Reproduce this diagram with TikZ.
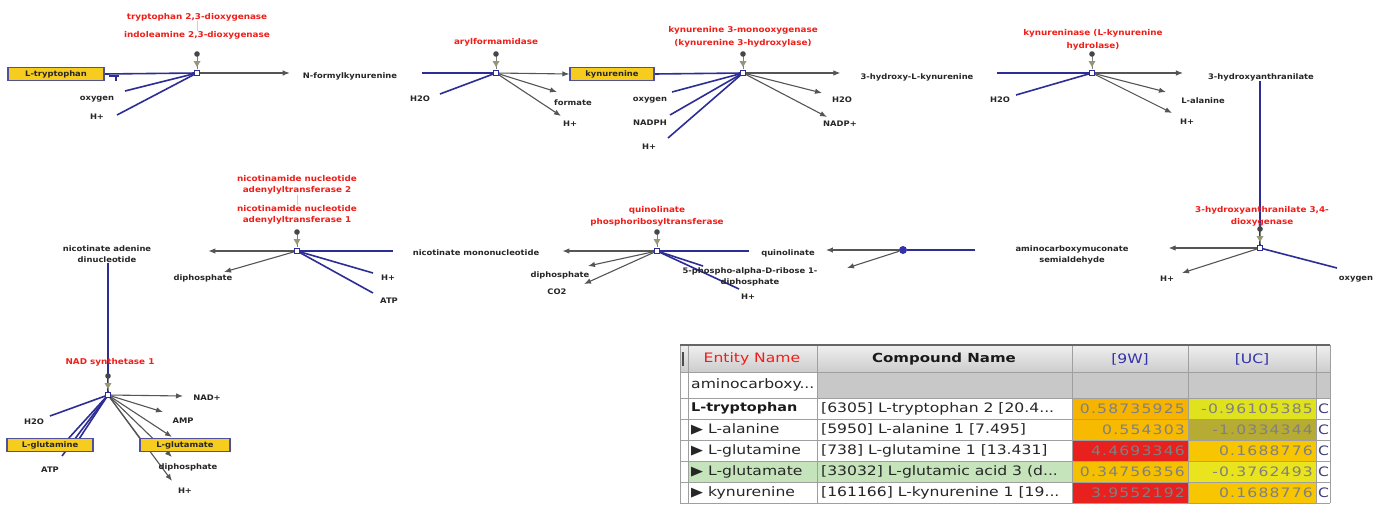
\documentclass[tikz,border=0pt]{standalone}
\usepackage{fontspec}
\setmainfont{DejaVu Sans}
\newfontfamily\dfont[FakeStretch=1.1]{DejaVu Sans}
\newfontfamily\tfont[FakeStretch=1.2]{DejaVu Sans}
\newfontfamily\vfont[FakeStretch=1.2,LetterSpace=9]{DejaVu Sans}
\usetikzlibrary{arrows.meta}
\pgfdeclarelayer{bg}
\pgfsetlayers{bg,main}
\definecolor{sblue}{RGB}{45,45,150}
\definecolor{pgray}{RGB}{85,85,85}
\definecolor{ered}{RGB}{240,30,25}
\definecolor{cyel}{RGB}{246,204,30}
\definecolor{cbord}{RGB}{80,80,160}
\definecolor{dotc}{RGB}{70,70,70}
\definecolor{tric}{RGB}{150,150,120}
\definecolor{celg}{RGB}{200,200,200}
\definecolor{rowg}{RGB}{198,228,188}
\definecolor{cor1}{RGB}{246,180,0}
\definecolor{cor2}{RGB}{247,186,0}
\definecolor{cor3}{RGB}{244,192,0}
\definecolor{cred}{RGB}{232,32,30}
\definecolor{cyl1}{RGB}{224,226,30}
\definecolor{col1}{RGB}{182,172,52}
\definecolor{cyl2}{RGB}{248,198,0}
\definecolor{cyl3}{RGB}{234,228,30}
\definecolor{hblue}{RGB}{50,50,170}
\definecolor{cblue}{RGB}{60,60,120}
\definecolor{tblue}{RGB}{50,50,170}
\begin{document}
\begin{tikzpicture}[x=1pt,y=-1pt,
 lbl/.style={font=\dfont\bfseries\fontsize{7.6}{11}\selectfont, inner sep=0pt, text=black!85},
 enz/.style={lbl, font=\dfont\bfseries\fontsize{8}{11}\selectfont, text=ered},
 cbox/.style={lbl, draw=cbord, line width=1.3pt, fill=cyel, minimum height=13pt},
 sub/.style={draw=sblue, line width=1.6pt},
 prod/.style={draw=pgray, line width=1.1pt, -{Latex[length=7pt,width=5.5pt]}},
 pline/.style={draw=pgray, line width=1.1pt},
 yline/.style={draw=yellow!80!orange, line width=1pt},
 hub/.style={draw=sblue, fill=white, line width=0.8pt, minimum size=4.5pt, inner sep=0pt},
 spont/.style={circle, fill=hblue, minimum size=8pt, inner sep=0pt},
 mod/.pic={\draw[gray, line width=0.6pt] (0,-19) -- (0,-4);
   \fill[tric] (-3.5,-12) -- (3.5,-12) -- (0,-6) -- cycle;
   \fill[dotc] (0,-19) circle (2.8);},
 tx/.style={font=\tfont\fontsize{13}{15}\selectfont, inner sep=0pt, text=black!85},
 txb/.style={font=\tfont\bfseries\fontsize{12.5}{15}\selectfont, inner sep=0pt, text=black!90},
 tv/.style={font=\vfont\fontsize{13}{15}\selectfont, inner sep=0pt, text=black!50, anchor=east},
]
\useasboundingbox (0,0) rectangle (1384,506);
\begin{pgfonlayer}{bg}
\fill[white] (0,0) rectangle (1384,506);
\end{pgfonlayer}

% hubs
\coordinate (h1) at (197,73);
\coordinate (h2) at (496,73);
\coordinate (h3) at (743,73);
\coordinate (h4) at (1092,73);
\coordinate (h5) at (1260,248);
\coordinate (h6) at (657,251);
\coordinate (h7) at (297,251);
\coordinate (h8) at (108,395);

% free ends
\coordinate (o1s) at (125,91);
\coordinate (hp1s) at (117,115);
\coordinate (w2s) at (440,94);
\coordinate (f2e) at (557,92);
\coordinate (hp2e) at (561,116);
\coordinate (o3s) at (672,92);
\coordinate (n3s) at (670,115);
\coordinate (hp3s) at (668,138);
\coordinate (w3e) at (822,93);
\coordinate (np3e) at (827,117);
\coordinate (w4s) at (1016,95);
\coordinate (ale) at (1166,92);
\coordinate (hp4e) at (1172,113);
\coordinate (hp5e) at (1182,273);
\coordinate (o5s) at (1337,268);
\coordinate (sp2e) at (847,268);
\coordinate (dp6e) at (588,266);
\coordinate (co2e) at (584,284);
\coordinate (prpps) at (703,266);
\coordinate (hp6s) at (739,289);
\coordinate (dp7e) at (224,272);
\coordinate (hp7s) at (373,273);
\coordinate (atp7s) at (373,293);
\coordinate (nadpe) at (183,396);
\coordinate (ampe) at (163,412);
\coordinate (glue) at (172,437);
\coordinate (dp8e) at (172,457);
\coordinate (hp8e) at (172,481);
\coordinate (w8s) at (50,416);
\coordinate (gln1) at (68,439);
\coordinate (gln2) at (79,439);
\coordinate (atp8s) at (62,456);

% ---------- labels
\node[cbox, minimum width=96pt] (trp) at (56,74) {L-tryptophan};
\node[enz] (e1a) at (197,17) {tryptophan 2,3-dioxygenase};
\node[enz] (e1b) at (197,35) {indoleamine 2,3-dioxygenase};
\node[lbl] (o1) at (97,99) {oxygen};
\node[lbl] (hp1) at (97,117) {H+};
\node[lbl] (nfk) at (350,76) {N-formylkynurenine};

\node[enz] (e2) at (496,42) {arylformamidase};
\node[lbl] (w2) at (420,99) {H2O};
\node[cbox, minimum width=84pt] (kyn) at (612,74) {kynurenine};
\node[lbl] (f2) at (573,103) {formate};
\node[lbl] (hp2) at (570,124) {H+};

\node[enz] (e3a) at (743,30) {kynurenine 3-monooxygenase};
\node[enz] (e3b) at (743,43) {(kynurenine 3-hydroxylase)};
\node[lbl] (o3) at (650,100) {oxygen};
\node[lbl] (n3) at (650,123) {NADPH};
\node[lbl] (hp3) at (649,147) {H+};
\node[lbl] (hk) at (917,77) {3-hydroxy-L-kynurenine};
\node[lbl] (w3) at (842,100) {H2O};
\node[lbl] (np3) at (840,124) {NADP+};

\node[enz] (e4a) at (1093,33) {kynureninase (L-kynurenine};
\node[enz] (e4b) at (1093,46) {hydrolase)};
\node[lbl] (w4) at (1000,100) {H2O};
\node[lbl] (haa) at (1261,77) {3-hydroxyanthranilate};
\node[lbl] (al) at (1203,101) {L-alanine};
\node[lbl] (hp4) at (1187,122) {H+};

\node[enz] (e5a) at (1262,210) {3-hydroxyanthranilate 3,4-};
\node[enz] (e5b) at (1262,222) {dioxygenase};
\node[lbl, align=center] (acms) at (1072,255) {aminocarboxymuconate\\semialdehyde};
\node[lbl] (hp5) at (1167,279) {H+};
\node[lbl] (o5) at (1356,279) {oxygen};

\node[spont] (sp) at (903,250) {};
\node[lbl] (qa) at (788,253) {quinolinate};

\node[enz] (e6a) at (657,210) {quinolinate};
\node[enz] (e6b) at (657,222) {phosphoribosyltransferase};
\node[lbl] (nmn) at (476,253) {nicotinate mononucleotide};
\node[lbl] (dp6) at (560,275) {diphosphate};
\node[lbl] (co2) at (557,292) {CO2};
\node[lbl, align=center] (prpp) at (750,277) {5-phospho-alpha-D-ribose 1-\\diphosphate};
\node[lbl] (hp6) at (748,297) {H+};

\node[enz, align=center] (e7a) at (297,185) {nicotinamide nucleotide\\adenylyltransferase 2};
\node[enz, align=center] (e7b) at (297,215) {nicotinamide nucleotide\\adenylyltransferase 1};
\node[lbl, align=center] (nad) at (107,254) {nicotinate adenine\\dinucleotide};
\node[lbl] (dp7) at (203,278) {diphosphate};
\node[lbl] (hp7) at (388,278) {H+};
\node[lbl] (atp7) at (389,301) {ATP};

\node[enz] (e8) at (110,362) {NAD synthetase 1};
\node[lbl] (nadp) at (207,398) {NAD+};
\node[lbl] (amp) at (183,421) {AMP};
\node[cbox, minimum width=90pt] (glu) at (185,445) {L-glutamate};
\node[cbox, minimum width=86pt] (gln) at (50,445) {L-glutamine};
\node[lbl] (w8) at (34,422) {H2O};
\node[lbl] (atp8) at (50,470) {ATP};
\node[lbl] (dp8) at (188,467) {diphosphate};
\node[lbl] (hp8) at (185,491) {H+};

% ---------- connectors
\begin{pgfonlayer}{bg}
\draw[sub] (trp.east) -- (h1);
\draw[sub] (o1s) -- (h1);
\draw[sub] (hp1s) -- (h1);
\draw[prod, shorten >=13pt] (h1) -- (nfk.west |- h1);
\draw[yline] (e1a.south) -- (e1b.north);

\draw[sub, shorten <=25pt] (nfk.east |- h2) -- (h2);
\draw[sub] (w2s) -- (h2);
\draw[prod] (h2) -- (kyn.west);
\draw[prod] (h2) -- (f2e);
\draw[prod] (h2) -- (hp2e);

\draw[sub] (kyn.east) -- (h3);
\draw[sub] (o3s) -- (h3);
\draw[sub] (n3s) -- (h3);
\draw[sub] (hp3s) -- (h3);
\draw[prod, shorten >=20pt] (h3) -- (hk.west |- h3);
\draw[prod] (h3) -- (w3e);
\draw[prod] (h3) -- (np3e);

\draw[sub, shorten <=23pt] (hk.east |- h4) -- (h4);
\draw[sub] (w4s) -- (h4);
\draw[prod, shorten >=25pt] (h4) -- (haa.west |- h4);
\draw[prod] (h4) -- (ale);
\draw[prod] (h4) -- (hp4e);

\draw[sub] (haa.south -| h5) -- (h5);
\draw[prod, shorten >=40pt] (h5) -- (acms.east |- h5);
\draw[prod] (h5) -- (hp5e);
\draw[sub] (o5s) -- (h5);

\draw[sub, shorten <=40pt] (acms.west |- sp) -- (sp);
\draw[prod, shorten >=11pt] (sp) -- (qa.east |- sp);
\draw[prod] (sp) -- (sp2e);

\draw[sub, shorten <=12pt] (qa.west |- h6) -- (h6);
\draw[prod, shorten >=23pt] (h6) -- (nmn.east |- h6);
\draw[prod] (h6) -- (dp6e);
\draw[prod] (h6) -- (co2e);
\draw[sub] (prpps) -- (h6);
\draw[sub] (hp6s) -- (h6);

\draw[sub, shorten <=20pt] (nmn.west |- h7) -- (h7);
\draw[prod, shorten >=57pt] (h7) -- (nad.east |- h7);
\draw[prod] (h7) -- (dp7e);
\draw[sub] (hp7s) -- (h7);
\draw[sub] (atp7s) -- (h7);
\draw[yline] (e7a.south) -- (e7b.north);

\draw[sub] (nad.south -| h8) -- (h8);
\draw[prod] (h8) -- (nadpe);
\draw[prod] (h8) -- (ampe);
\draw[pline] (h8) -- (glu.north west);
\draw[prod] (h8) -- (glue);
\draw[prod] (h8) -- (dp8e);
\draw[prod] (h8) -- (hp8e);
\draw[sub] (w8s) -- (h8);
\draw[sub] (h8) -- (gln1);
\draw[sub] (h8) -- (gln2);
\draw[sub] (atp8s) -- (h8);
\end{pgfonlayer}

% small T mark next to L-tryptophan
\draw[sblue, line width=1.8pt] (109,76) -- (119,76) (116,76) -- (116,81);

% hubs and modifiers
\foreach \h in {h1,h2,h3,h4,h5,h6,h7,h8}{
  \pic at (\h) {mod};
  \node[hub] (\h b) at (\h) {};
}

% ---------- table
\shade[top color=gray!12, bottom color=gray!40] (680,345) rectangle (1330,372);
\fill[white] (680,372) rectangle (1330,503);
\fill[celg] (817,372) rectangle (1330,398);
\fill[rowg] (688,461) rectangle (1072,482);
\fill[cor1] (1072,398) rectangle (1188,419);
\fill[cyl1] (1188,398) rectangle (1316,419);
\fill[cor2] (1072,419) rectangle (1188,440);
\fill[col1] (1188,419) rectangle (1316,440);
\fill[cred] (1072,440) rectangle (1188,461);
\fill[cyl2] (1188,440) rectangle (1316,461);
\fill[cor3] (1072,461) rectangle (1188,482);
\fill[cyl3] (1188,461) rectangle (1316,482);
\fill[cred] (1072,482) rectangle (1188,503);
\fill[cyl2] (1188,482) rectangle (1316,503);
\foreach \x in {680,688,817,1072,1188,1316,1330}
  \draw[gray!75, line width=0.8pt] (\x,345) -- (\x,503);
\foreach \y in {372,398,419,440,461,482,503}
  \draw[gray!75, line width=0.8pt] (680,\y) -- (1330,\y);
\draw[black!60, line width=1.3pt] (680,345) -- (1330,345);
\draw[black!70, line width=1.5pt] (683,352) -- (683,366);

\node[tx, text=ered] (tEN) at (752,359) {Entity Name};
\node[txb] (tCN) at (944,359) {Compound Name};
\node[tx, text=tblue] (t9W) at (1130,359) {[9W]};
\node[tx, text=tblue] (tUC) at (1252,359) {[UC]};

\node[tx, anchor=west] (r1a) at (691,385) {aminocarboxy...};
\node[txb, anchor=west, font=\tfont\bfseries\fontsize{12}{15}\selectfont] (r2a) at (691,408.5) {L-tryptophan};
\node[tx, anchor=west] (r3a) at (691,429.5) {▶ L-alanine};
\node[tx, anchor=west] (r4a) at (691,450.5) {▶ L-glutamine};
\node[tx, anchor=west] (r5a) at (691,471.5) {▶ L-glutamate};
\node[tx, anchor=west] (r6a) at (691,492.5) {▶ kynurenine};

\begin{scope}
\clip (817,398) rectangle (1072,503);
\node[tx, anchor=west] (r2b) at (821,408.5) {[6305] L-tryptophan 2 [20.4...};
\node[tx, anchor=west] (r3b) at (821,429.5) {[5950] L-alanine 1 [7.495]};
\node[tx, anchor=west] (r4b) at (821,450.5) {[738] L-glutamine 1 [13.431]};
\node[tx, anchor=west] (r5b) at (821,471.5) {[33032] L-glutamic acid 3 (d...};
\node[tx, anchor=west] (r6b) at (821,492.5) {[161166] L-kynurenine 1 [19...};
\end{scope}

\node[tv] (r2c) at (1185,408.5) {0.58735925};
\node[tv] (r3c) at (1185,429.5) {0.554303};
\node[tv] (r4c) at (1185,450.5) {4.4693346};
\node[tv] (r5c) at (1185,471.5) {0.34756356};
\node[tv] (r6c) at (1185,492.5) {3.9552192};
\node[tv] (r2d) at (1313,408.5) {-0.96105385};
\node[tv] (r3d) at (1313,429.5) {-1.0334344};
\node[tv] (r4d) at (1313,450.5) {0.1688776};
\node[tv] (r5d) at (1313,471.5) {-0.3762493};
\node[tv] (r6d) at (1313,492.5) {0.1688776};

\foreach \yy/\nm in {408.5/c2,429.5/c3,450.5/c4,471.5/c5,492.5/c6}
  \node[tx, anchor=west, text=cblue] (\nm) at (1318,\yy) {C};
\end{tikzpicture}
\end{document}
